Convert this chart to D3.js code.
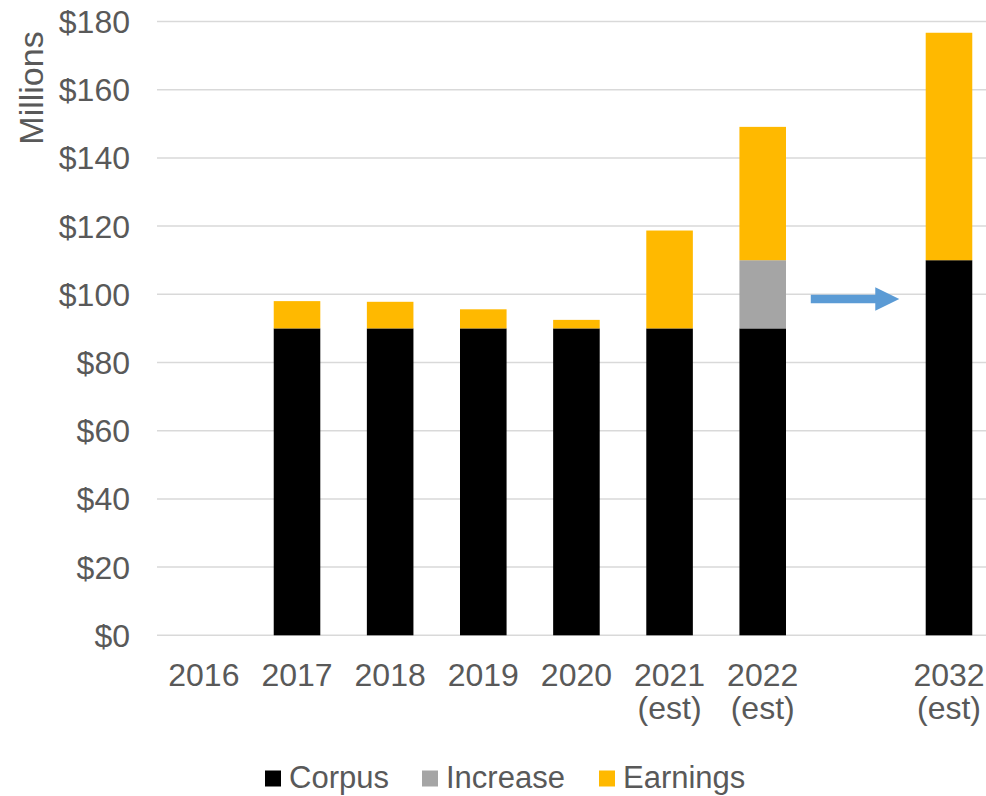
<!DOCTYPE html>
<html>
<head>
<meta charset="utf-8">
<script src="https://cdn.jsdelivr.net/npm/d3@7"></script>
<style>
  html, body { margin: 0; padding: 0; background: #fff; }
  svg { display: block; }
  text { font-family: Arial, "Liberation Sans", sans-serif; fill: #595959; }
</style>
</head>
<body>
<svg id="chart" width="986" height="796"></svg>
<script>
// Fund balance by year, in millions of dollars
const categories = ["2016", "2017", "2018", "2019", "2020", "2021 (est)", "2022 (est)", "gap", "2032 (est)"];
const categoryLabels = [["2016"], ["2017"], ["2018"], ["2019"], ["2020"], ["2021", "(est)"], ["2022", "(est)"], [], ["2032", "(est)"]];
const corpus   = [0, 90, 90, 90, 90, 90, 90, 0, 110];
const increase = [0, 0, 0, 0, 0, 0, 20, 0, 0];
const earnings = [0, 8.0, 7.8, 5.6, 2.5, 28.7, 39.1, 0, 66.7];
const seriesNames = ["Corpus", "Increase", "Earnings"];
const seriesColors = ["#000000", "#A5A5A5", "#FFB900"];
const yTicks = [0, 20, 40, 60, 80, 100, 120, 140, 160, 180];
const arrowLevel = 98.6; // level of the "grows to" arrow between 2022 and 2032

const svg = d3.select("#chart");

const x = d3.scaleBand()
  .domain(categories)
  .range([157.3, 157.3 + 9 * 93.14])
  .paddingInner(0.5)
  .paddingOuter(0.25);

const y = d3.scaleLinear().domain([0, 180]).range([635.3, 21.5]);

// gridlines
svg.append("g").selectAll("line")
  .data(yTicks)
  .join("line")
  .attr("x1", 157).attr("x2", 986)
  .attr("y1", d => y(d)).attr("y2", d => y(d))
  .attr("stroke", "#D9D9D9").attr("stroke-width", 1.5);

// y axis tick labels
const yAxis = d3.axisLeft(y).tickValues(yTicks).tickSize(0).tickPadding(0)
  .tickFormat(d => "$" + d);
svg.append("g")
  .attr("transform", "translate(130,0)")
  .call(yAxis)
  .call(g => g.select(".domain").remove())
  .call(g => g.selectAll("text")
    .attr("dy", null)
    .attr("y", 11)
    .attr("font-size", 32)
    .attr("font-family", "Arial, 'Liberation Sans', sans-serif")
    .attr("fill", "#595959"));

// axis title
svg.append("text")
  .attr("transform", "translate(43,88) rotate(-90)")
  .attr("text-anchor", "middle")
  .attr("font-size", 34)
  .text("Millions");

// stacked bars
const rows = categories.map((c, i) => ({cat: c, Corpus: corpus[i], Increase: increase[i], Earnings: earnings[i]}));
const stacked = d3.stack().keys(seriesNames)(rows);

svg.append("g").selectAll("g")
  .data(stacked)
  .join("g")
  .attr("fill", (d, i) => seriesColors[i])
  .selectAll("rect")
  .data(d => d.filter(s => s[1] - s[0] > 0))
  .join("rect")
  .attr("x", d => x(d.data.cat))
  .attr("width", x.bandwidth())
  .attr("y", d => y(d[1]))
  .attr("height", d => y(d[0]) - y(d[1]));

// category labels
const xl = svg.append("g");
categories.forEach((c, i) => {
  const t = xl.append("text")
    .attr("text-anchor", "middle")
    .attr("font-size", 32)
    .attr("x", x(c) + x.bandwidth() / 2)
    .attr("y", 686);
  categoryLabels[i].forEach((line, j) => {
    t.append("tspan")
      .attr("x", x(c) + x.bandwidth() / 2)
      .attr("dy", j === 0 ? 0 : 33)
      .text(line);
  });
});

// arrow across the gap slot
const gx0 = x("gap") - x.step() * x.paddingInner() / 2 + 1.5;
const gx1 = gx0 + 88.5;
const ay = y(arrowLevel);
const arrowPath = d3.path();
arrowPath.moveTo(gx0, ay - 4.2);
arrowPath.lineTo(gx1 - 24, ay - 4.2);
arrowPath.lineTo(gx1 - 24, ay - 11.8);
arrowPath.lineTo(gx1, ay);
arrowPath.lineTo(gx1 - 24, ay + 11.8);
arrowPath.lineTo(gx1 - 24, ay + 4.2);
arrowPath.lineTo(gx0, ay + 4.2);
arrowPath.closePath();
svg.append("path").attr("d", arrowPath.toString()).attr("fill", "#5B9BD5");

// legend
const legendX = [265, 422, 599];
const legend = svg.append("g");
seriesNames.forEach((name, i) => {
  legend.append("rect")
    .attr("x", legendX[i]).attr("y", 770.5)
    .attr("width", 16).attr("height", 16)
    .attr("fill", seriesColors[i]);
  legend.append("text")
    .attr("x", legendX[i] + 24).attr("y", 787.5)
    .attr("font-size", 31)
    .text(name);
});
</script>
</body>
</html>
